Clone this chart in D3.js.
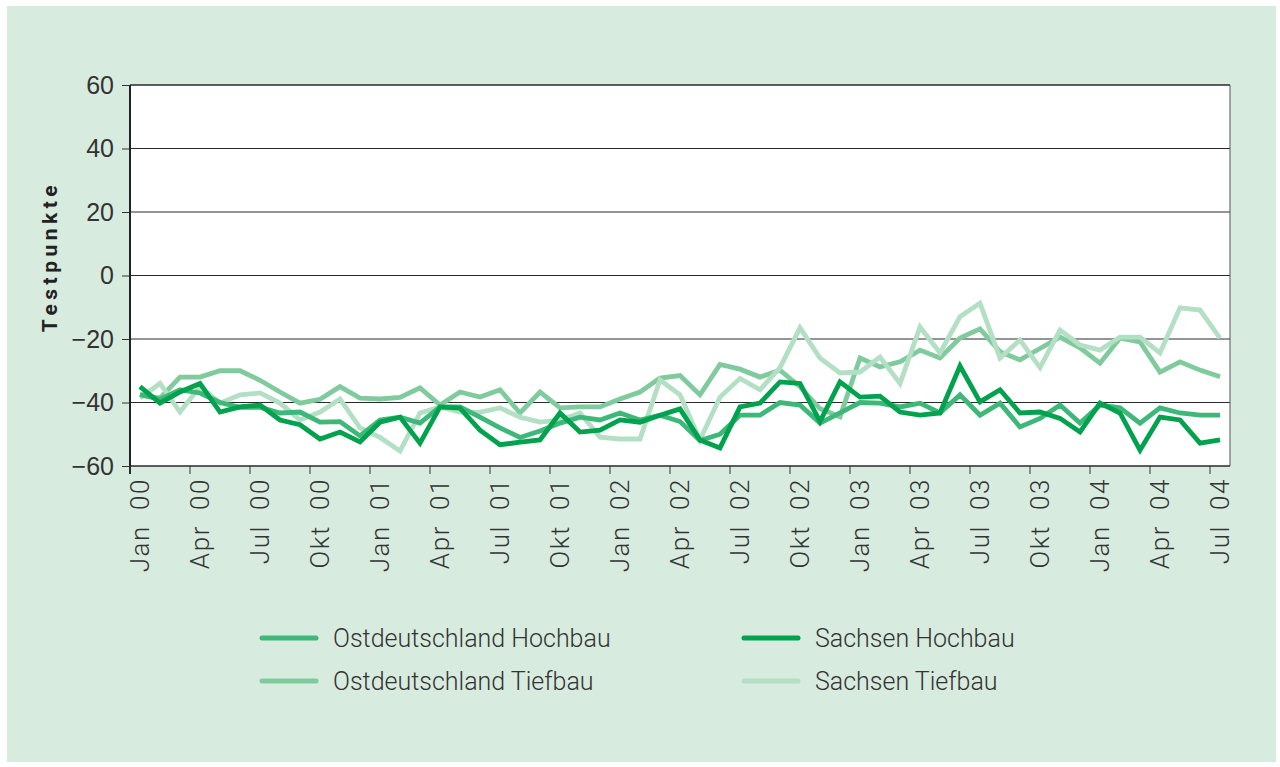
<!DOCTYPE html>
<html>
<head>
<meta charset="utf-8">
<script src="https://cdn.jsdelivr.net/npm/d3@7"></script>
<style>
  body { margin: 0; background: #fff; }
  svg { display: block; font-family: Roboto, "Liberation Sans", Arial, sans-serif; }
</style>
</head>
<body>
<div id="chart"></div>
<script>
// month categories Jan 00 .. Jul 04
const monthNames = ["Jan","Feb","Mär","Apr","Mai","Jun","Jul","Aug","Sep","Okt","Nov","Dez"];
const months = [];
for (let y = 0; y <= 4; y++) {
  for (let m = 0; m < 12; m++) {
    if (y === 4 && m > 6) break;
    months.push(monthNames[m] + " 0" + y);
  }
}

const yTicks = [60, 40, 20, 0, -20, -40, -60];

// series values (Testpunkte)
const ostHochbau = [-37.5, -39, -36, -37, -40, -41.5, -41.5, -43.3, -43, -46.2, -46, -50.5, -45.5, -44.6,
  -46.5, -41.4, -41.4, -44.6, -48, -51, -49, -46.5, -44.6, -45.5, -43.3, -45.5, -44, -46, -52, -50,
  -44, -44, -40, -40.8, -46.5, -43.3, -40, -40.2, -41.4, -40.2, -43.3, -37.6, -44, -40.2, -47.7, -45,
  -40.8, -46.5, -40.8, -41.7, -46.5, -41.7, -43.3, -44, -44];
const ostTiefbau = [-37.5, -38.6, -32, -32, -30, -30, -33, -36.7, -40.2, -39, -35, -38.6, -38.9, -38.4,
  -35.4, -40.8, -36.7, -38.3, -36, -43.3, -36.7, -41.7, -41.4, -41.4, -38.9, -36.7, -32.3, -31.5, -37.6, -28,
  -29.5, -32, -29.8, -35, -42, -44.5, -26, -28.8, -27.2, -23.5, -26, -19.7, -16.8, -24, -26.6, -23,
  -19.4, -22.8, -27.6, -19.7, -20.9, -30.4, -27.2, -29.8, -31.9];
const sachHochbau = [-35, -40.2, -36.7, -34, -43, -41.4, -40.8, -45.5, -47, -51.5, -49.3, -52.4, -46.2, -44.6,
  -52.8, -41.4, -41.8, -48.7, -53.3, -52.5, -51.8, -43.3, -49.3, -48.7, -45.5, -46.2, -44, -42, -51.8, -54.3,
  -41.4, -40.2, -33.5, -34, -46, -33.5, -38.3, -38, -43, -44, -43.3, -28.5, -39.8, -36, -43.3, -43,
  -45, -49.3, -40.2, -43.3, -55, -44.6, -45.5, -52.8, -51.8];
const sachTiefbau = [-38.6, -34, -43, -35, -40.2, -37.6, -37, -40.2, -45.5, -43, -38.9, -48, -51, -55.3,
  -43.3, -41.4, -43, -43, -41.7, -44.6, -46.2, -45.5, -43.3, -50.9, -51.5, -51.5, -32.9, -37.6, -51.8, -38.3,
  -32.4, -36, -29, -16.5, -26, -30.7, -30.4, -25.7, -34, -16.2, -24.4, -13, -8.7, -26, -20.3, -29,
  -17.2, -21.9, -23.5, -19.4, -19.4, -24.4, -10.2, -10.9, -19.7];

const series = [
  {name: "Ostdeutschland Tiefbau", values: ostTiefbau, color: "#80cb9e"},
  {name: "Sachsen Tiefbau", values: sachTiefbau, color: "#b3dfc4"},
  {name: "Ostdeutschland Hochbau", values: ostHochbau, color: "#3eb879"},
  {name: "Sachsen Hochbau", values: sachHochbau, color: "#00a24d"}
];

const width = 1280;
const height = 767;
const margin = {left: 130, right: 50, top: 85, bottom: 301};

const svg = d3.select("#chart")
  .append("svg")
  .attr("width", width)
  .attr("height", height);

// green panel
svg.append("rect")
  .attr("x", 7).attr("y", 6)
  .attr("width", 1269).attr("height", 756)
  .attr("fill", "#d8ebdf");

// plot area
svg.append("rect")
  .attr("x", margin.left).attr("y", margin.top)
  .attr("width", width - margin.left - margin.right)
  .attr("height", height - margin.top - margin.bottom)
  .attr("fill", "#fff");

const xScale = d3.scaleBand()
  .domain(months)
  .range([margin.left, width - margin.right])
  .padding(0);

const yScale = d3.scaleLinear()
  .domain([-60, 60])
  .range([height - margin.bottom, margin.top]);

const cx = d => xScale(d) + xScale.bandwidth() / 2;

// y axis with grid
svg.append("g")
  .attr("transform", `translate(${margin.left},0)`)
  .call(d3.axisLeft(yScale)
    .tickValues(yTicks)
    .tickSize(8)
    .tickFormat(d => d < 0 ? "\u2212" + Math.abs(d) : d))
  .call(g => g.select(".domain").remove())
  .call(g => g.selectAll(".tick line").attr("stroke", "#333"))
  .call(g => g.selectAll(".tick text")
    .attr("x", -16)
    .attr("font-size", "25px")
    .attr("font-weight", 300)
    .attr("fill", "#333"));

svg.append("g")
  .selectAll("line")
  .data(yTicks)
  .join("line")
    .attr("x1", margin.left)
    .attr("x2", width - margin.right)
    .attr("y1", d => yScale(d))
    .attr("y2", d => yScale(d))
    .attr("stroke", "#2a2a2a")
    .attr("stroke-width", d => (d === 60 || d === -60) ? 1.6 : 1);

// right border and left axis line
svg.append("line")
  .attr("x1", width - margin.right).attr("x2", width - margin.right)
  .attr("y1", margin.top).attr("y2", height - margin.bottom)
  .attr("stroke", "#555").attr("stroke-width", 1);
svg.append("line")
  .attr("x1", margin.left).attr("x2", margin.left)
  .attr("y1", margin.top).attr("y2", height - margin.bottom + 8)
  .attr("stroke", "#222").attr("stroke-width", 2);

// x axis ticks (every quarter, at band start) and labels
const quarters = months.filter((d, i) => i % 3 === 0);
const xg = svg.append("g");
xg.selectAll("line")
  .data(quarters)
  .join("line")
    .attr("x1", d => xScale(d))
    .attr("x2", d => xScale(d))
    .attr("y1", height - margin.bottom)
    .attr("y2", height - margin.bottom + 8)
    .attr("stroke", "#333");
xg.selectAll("text")
  .data(quarters)
  .join("text")
    .attr("transform", d => `translate(${cx(d) + 9},${height - margin.bottom + 12}) rotate(-90)`)
    .attr("text-anchor", "end")
    .attr("font-size", "26px")
    .attr("font-weight", 300)
    .attr("letter-spacing", "1.6px")
    .attr("word-spacing", "7px")
    .attr("fill", "#333")
    .text(d => d);

// y label
svg.append("text")
  .attr("transform", `translate(57,${yScale(0) - 19}) rotate(-90)`)
  .attr("text-anchor", "middle")
  .attr("font-size", "21px")
  .attr("font-weight", "bold")
  .attr("letter-spacing", "4.5px")
  .attr("fill", "#222")
  .text("Testpunkte");

// lines
const line = d3.line()
  .x((d, i) => cx(months[i]))
  .y(d => yScale(d));

svg.append("g")
  .selectAll("path")
  .data(series)
  .join("path")
    .attr("d", d => line(d.values))
    .attr("fill", "none")
    .attr("stroke", d => d.color)
    .attr("stroke-width", 4.8)
    .attr("stroke-linejoin", "miter");

// legend
const legendItems = [
  {name: "Ostdeutschland Hochbau", color: "#3eb879", x: 260, y: 638},
  {name: "Ostdeutschland Tiefbau", color: "#80cb9e", x: 260, y: 681},
  {name: "Sachsen Hochbau", color: "#00a24d", x: 742, y: 638},
  {name: "Sachsen Tiefbau", color: "#b3dfc4", x: 742, y: 681}
];
const lg = svg.append("g").selectAll("g")
  .data(legendItems)
  .join("g")
    .attr("transform", d => `translate(${d.x},${d.y})`);
lg.append("line")
  .attr("x1", 2).attr("x2", 56)
  .attr("stroke", d => d.color)
  .attr("stroke-width", 5)
  .attr("stroke-linecap", "round");
lg.append("text")
  .attr("x", 73)
  .attr("dy", "0.35em")
  .attr("font-size", "25px")
  .attr("font-weight", 300)
  .attr("fill", "#333")
  .text(d => d.name);
</script>
</body>
</html>
